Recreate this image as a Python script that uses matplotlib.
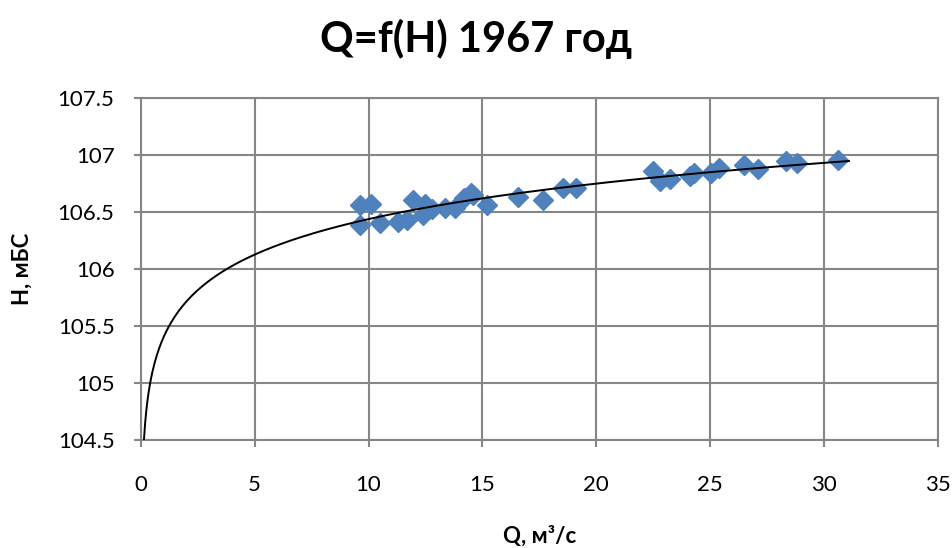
import numpy as np
import matplotlib.pyplot as plt

# расходы Q (м3/с) и уровни H (мБС), 1967 год
Q = [9.62, 10.12, 9.62, 10.5, 11.3, 11.7, 11.96, 12.47, 12.4, 12.8, 13.35, 13.8,
     14.2, 14.5, 14.6, 15.2, 16.57, 17.67, 18.55, 19.13, 22.5, 22.8, 23.23, 24.1,
     24.3, 25.06, 25.4, 26.5, 27.1, 28.35, 28.8, 30.6]
H = [106.56, 106.57, 106.38, 106.40, 106.41, 106.43, 106.60, 106.57, 106.47, 106.52,
     106.53, 106.53, 106.62, 106.66, 106.65, 106.56, 106.63, 106.60, 106.71, 106.71,
     106.86, 106.77, 106.79, 106.81, 106.84, 106.84, 106.88, 106.91, 106.87, 106.94,
     106.93, 106.95]

# логарифмическая линия тренда H = a*ln(Q) + b
a, b = np.polyfit(np.log(Q), H, 1)
q0 = np.exp((104.5 - b) / a)
qq = np.linspace(q0, 31.1, 600)
hh = a * np.log(qq) + b

plt.rcParams['font.family'] = ['Lato', 'DejaVu Sans']

fig = plt.figure(figsize=(9.52, 5.48), dpi=100)
ax = fig.add_axes([0.148, 0.197, 0.837, 0.625])

ax.plot(Q, H, linestyle="none", marker="D", markersize=10, color="#4F81BD", zorder=3)
ax.plot(qq, hh, color="black", linewidth=1.4, zorder=4)

ax.set_xlim(0, 35)
ax.set_ylim(104.5, 107.5)
ax.set_xticks(np.arange(0, 36, 5))
ax.set_yticks(np.arange(104.5, 107.6, 0.5))
ax.set_yticklabels(["104.5", "105", "105.5", "106", "106.5", "107", "107.5"])
ax.grid(True, color="#868686", linewidth=1.5)
ax.set_axisbelow(True)
for s in ax.spines.values():
    s.set_color("#868686")
    s.set_linewidth(1.5)
ax.tick_params(direction="out", length=5, width=1.5, color="#868686",
               labelsize=16, pad=14)
ax.tick_params(axis="x", pad=20)

fig.suptitle("Q=f(H) 1967 год", fontsize=30, fontweight="bold", x=0.5, y=0.965)
ax.set_xlabel("Q, м³/с", fontsize=16, fontweight="bold", labelpad=22)
ax.set_ylabel("H, мБС", fontsize=16, fontweight="bold", labelpad=18)

fig.savefig("out.png", dpi=100)
